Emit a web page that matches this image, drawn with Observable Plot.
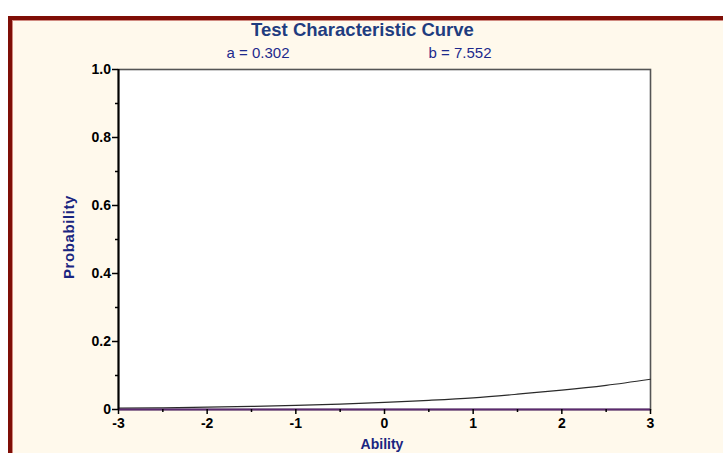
<!DOCTYPE html>
<html>
<head>
<meta charset="utf-8">
<script src="https://cdn.jsdelivr.net/npm/d3@7"></script>
<script src="https://cdn.jsdelivr.net/npm/@observablehq/plot@0.6"></script>
<style>
  html, body { margin: 0; padding: 0; background: #ffffff; }
  #wrap { position: relative; width: 723px; height: 453px; overflow: hidden; font-family: "Liberation Sans", Arial, sans-serif; }
  #frame { position: absolute; left: 8px; top: 16px; width: 760px; height: 480px; background: #fff9ec;
           border-left: 4px solid #7f0e06; border-top: 4px solid #7f0e06; box-shadow: inset 1px 1px 0 #d08a80; }
  .t { position: absolute; white-space: nowrap; }
  #title { width: 723px; text-align: center; top: 21px; font-size: 18.5px; line-height: 18px; font-weight: bold; color: #1f3d80; left: 1px; }
  .sub { top: 45px; width: 200px; text-align: center; font-size: 15px; line-height: 15px; color: #1d2a8c; }
  #ylab { left: -31px; top: 229px; width: 200px; text-align: center; font-size: 15px; line-height: 16px; font-weight: bold; color: #1a2580; letter-spacing: 0.6px; transform: rotate(-90deg); }
  #xlab { left: 282px; width: 200px; text-align: center; top: 437px; font-size: 14px; line-height: 14px; font-weight: bold; color: #1a2580; }
  #plot { position: absolute; left: 0; top: 0; }
  #plot svg text { font-family: "Liberation Sans", Arial, sans-serif; font-size: 14px; font-weight: bold; fill: black; }
</style>
</head>
<body>
<div id="wrap">
  <div id="frame"></div>
  <div id="title" class="t">Test Characteristic Curve</div>
  <div class="t sub" style="left:158px">a = 0.302</div>
  <div class="t sub" style="left:360px">b = 7.552</div>
  <div id="ylab" class="t">Probability</div>
  <div id="xlab" class="t">Ability</div>
  <div id="plot"></div>
</div>
<script>
// Values
const ability = [-3, -2.5, -2, -1.5, -1, -0.5, 0, 0.5, 1, 1.5, 2, 2.5, 3];
const probability = [0.004, 0.005, 0.007, 0.009, 0.012, 0.016, 0.021, 0.027, 0.034, 0.045, 0.057, 0.071, 0.089];
const xTicks = [-3, -2, -1, 0, 1, 2, 3];
const xMinorTicks = [-2.5, -1.5, -0.5, 0.5, 1.5, 2.5];
const yTicks = [0, 0.2, 0.4, 0.6, 0.8, 1.0];
const yTickLabels = ["0", "0.2", "0.4", "0.6", "0.8", "1.0"];
const yMinorTicks = [0.1, 0.3, 0.5, 0.7, 0.9];

const curve = ability.map((a, i) => ({ability: a, p: probability[i]}));

const chart = Plot.plot({
  width: 723,
  height: 453,
  marginLeft: 118,
  marginRight: 73,
  marginTop: 69,
  marginBottom: 44,
  style: { background: "transparent", color: "black", fontFamily: "'Liberation Sans', Arial, sans-serif", overflow: "visible" },
  x: { domain: [-3, 3], label: null },
  y: { domain: [0, 1], label: null },
  marks: [
    Plot.frame({ fill: "white", stroke: "none" }),
    Plot.frame({ stroke: "#555", strokeWidth: 1.6 }),
    Plot.line(curve, { x: "ability", y: "p", curve: "natural", stroke: "#2a2a2a", strokeWidth: 1.2 }),
    Plot.ruleY([0], { stroke: "#5c2a70", strokeWidth: 2 }),
    Plot.ruleX([-3], { stroke: "black", strokeWidth: 2 }),
    Plot.axisY(yTicks, { tickSize: 6, tickPadding: 1.5, fontSize: 14, fontWeight: "bold", strokeWidth: 1.5,
      tickFormat: d => yTickLabels[yTicks.indexOf(d)] }),
    Plot.axisY(yMinorTicks, { tickSize: 3, tickFormat: () => "", strokeWidth: 1.5 }),
    Plot.axisX(xTicks, { tickSize: 5, tickPadding: 4, fontSize: 14, fontWeight: "bold", strokeWidth: 1.5,
      tickFormat: d => String(d) }),
    Plot.axisX(xMinorTicks, { tickSize: 3, tickFormat: () => "", strokeWidth: 1.5 })
  ]
});
document.getElementById("plot").appendChild(chart);
</script>
</body>
</html>
